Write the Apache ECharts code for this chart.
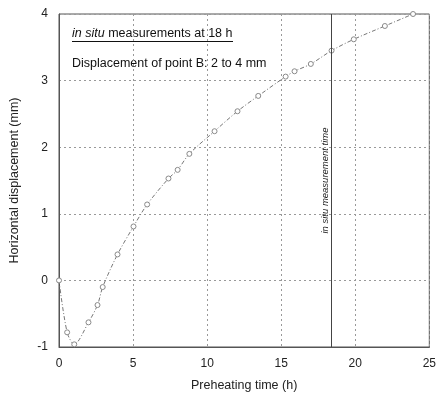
<!DOCTYPE html>
<html><head><meta charset="utf-8">
<script src="https://cdn.jsdelivr.net/npm/echarts@6/dist/echarts.min.js"></script>
<style>html,body{margin:0;padding:0;background:#fff}#c{width:439px;height:407px}</style>
</head><body><div id="c"></div>
<script>
var hours = [0, 0.55, 1.03, 1.99, 2.6, 2.95, 3.95, 5.03, 5.95, 7.39, 8.01, 8.8, 10.5, 12.05, 13.45, 15.3, 15.9, 17.0, 18.4, 19.9, 22.0, 23.9];
var displacement = [0, -0.78, -0.96, -0.63, -0.37, -0.1, 0.39, 0.81, 1.14, 1.53, 1.66, 1.9, 2.24, 2.54, 2.77, 3.06, 3.14, 3.25, 3.45, 3.62, 3.82, 4.0];
var measurementTime = 18.4;
var xTicks = [0, 5, 10, 15, 20, 25];
var yTicks = [-1, 0, 1, 2, 3, 4];

var font = 'Liberation Sans, Arial, sans-serif';
var chart = echarts.init(document.getElementById('c'));
chart.setOption({
  animation: false,
  grid: {left: 58.5, right: 5.5, top: 14, bottom: 60, show: true, borderColor: '#555', borderWidth: 1},
  xAxis: {
    type: 'value', min: xTicks[0], max: xTicks[xTicks.length-1], interval: 5,
    name: 'Preheating time (h)', nameLocation: 'middle', nameGap: 32,
    nameTextStyle: {fontFamily: font, fontSize: 12.5, color: '#222'},
    axisLine: {onZero: false, lineStyle: {color: '#555'}},
    axisTick: {show: false},
    axisLabel: {fontFamily: font, fontSize: 12, color: '#222', margin: 11},
    splitLine: {show: true, lineStyle: {color: '#999', type: [2, 3], width: 1}}
  },
  yAxis: {
    type: 'value', min: yTicks[0], max: yTicks[yTicks.length-1], interval: 1,
    name: 'Horizontal displacement (mm)', nameLocation: 'middle', nameGap: 38,
    nameTextStyle: {fontFamily: font, fontSize: 12.5, color: '#222'},
    axisLine: {onZero: false, lineStyle: {color: '#555'}},
    axisTick: {show: false},
    axisLabel: {fontFamily: font, fontSize: 12, color: '#222', margin: 11},
    splitLine: {show: true, lineStyle: {color: '#999', type: [2, 3], width: 1}}
  },
  series: [{
    type: 'line',
    data: hours.map(function(h, i){ return [h, displacement[i]]; }),
    smooth: 0.3,
    symbol: 'circle', symbolSize: 5,
    itemStyle: {color: '#fff', borderColor: '#888', borderWidth: 1},
    lineStyle: {color: '#777', width: 1, type: [4, 2, 1, 2]},
    markLine: {
      silent: true, symbol: 'none', animation: false,
      lineStyle: {color: '#444', width: 1, type: 'solid'},
      label: {show: true, formatter: 'in situ measurement time', position: 'insideMiddleTop',
              fontFamily: font, fontSize: 9.5, fontStyle: 'italic', color: '#222', distance: 1},
      data: [{xAxis: measurementTime}]
    }
  }],
  graphic: [
    {type: 'text', left: 72, top: 27, style: {
      text: '{i|in situ} measurements at 18 h',
      rich: {i: {fontStyle: 'italic', fontFamily: font, fontSize: 12.5, fill: '#111'}},
      fontFamily: font, fontSize: 12.5, fill: '#111'}},
    {type: 'line', shape: {x1: 72, y1: 41.5, x2: 233, y2: 41.5}, style: {stroke: '#111', lineWidth: 1}},
    {type: 'text', left: 72, top: 57, style: {
      text: 'Displacement of point B: 2 to 4 mm', fontFamily: font, fontSize: 12.5, fill: '#111'}}
  ]
});
</script></body></html>
